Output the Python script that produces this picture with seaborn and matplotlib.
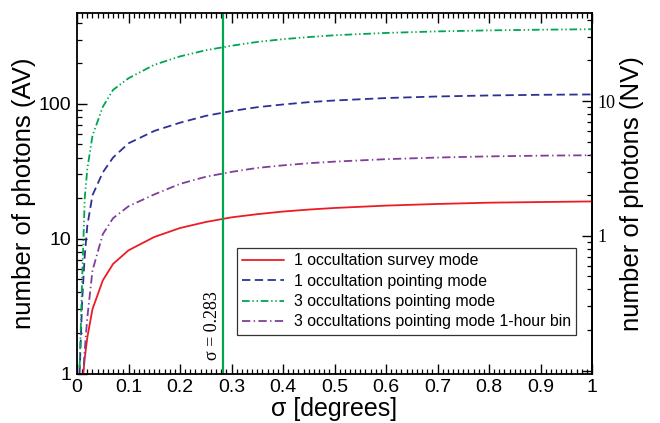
import numpy as np
import pandas as pd
import matplotlib
matplotlib.use("Agg")
import matplotlib.pyplot as plt
import matplotlib.ticker as mticker
import seaborn as sns

# ---- data ----
sigma = [0.005, 0.01, 0.015, 0.02, 0.03, 0.05, 0.07, 0.1, 0.15, 0.2, 0.25,
         0.3, 0.35, 0.4, 0.45, 0.5, 0.6, 0.7, 0.8, 0.9, 1.0]
survey_1occ = [0.3, 0.8, 1.3, 1.85, 3.0, 4.9, 6.5, 8.2, 10.3, 12.0, 13.3,
               14.4, 15.2, 15.9, 16.45, 16.9, 17.6, 18.1, 18.5, 18.7, 18.9]
pointing_1occ = [1.0, 3.5, 7.5, 12.5, 21.0, 31.0, 40.0, 51.0, 63.0, 72.5, 81.5,
                 88.5, 94.5, 99.0, 103.0, 106.0, 110.5, 113.5, 115.5, 116.8, 117.5]
pointing_3occ = [1.1, 5.0, 20.0, 33.0, 58.0, 95.0, 127.0, 155.0, 195.0, 225.0, 250.0,
                 270.0, 288.0, 302.0, 313.0, 323.0, 336.0, 345.0, 351.0, 355.0, 358.0]
pointing_3occ_1h = [0.5, 0.75, 1.5, 2.6, 5.8, 10.8, 14.2, 17.4, 21.3, 25.5, 28.8,
                    31.3, 33.5, 35.0, 36.3, 37.3, 38.9, 40.0, 40.8, 41.3, 41.6]
labels = ["1 occultation survey mode",
          "1 occultation pointing mode",
          "3 occultations pointing mode",
          "3 occultations pointing mode 1-hour bin"]
sigma_mark = 0.283
nv_factor = 10.5
x_ticks = [0, 0.1, 0.2, 0.3, 0.4, 0.5, 0.6, 0.7, 0.8, 0.9, 1.0]

sns.set_style("ticks")
plt.rcParams['font.family'] = ['Liberation Sans', 'DejaVu Sans']
plt.rcParams['lines.scale_dashes'] = False
for k in ['text.color', 'axes.labelcolor', 'xtick.color', 'ytick.color',
          'axes.edgecolor']:
    plt.rcParams[k] = 'black'

fig = plt.figure(figsize=(6.6, 4.23), dpi=100)
ax = fig.add_axes([0.1167, 0.117, 0.7803, 0.8516])

series = [survey_1occ, pointing_1occ, pointing_3occ, pointing_3occ_1h]
colors = ["#ec1c24", "#2e3192", "#00a651", "#7f3f98"]
styles = ["-", (0, (6, 3.2)), (0, (5.5, 2, 1, 2, 1, 2)), (0, (6, 2.4, 1, 2.4))]

for vals, lab, col, ls in zip(series, labels, colors, styles):
    df = pd.DataFrame({"sigma": sigma, "n": vals})
    sns.lineplot(data=df, x="sigma", y="n", ax=ax, color=col, label=lab,
                 linestyle=ls, linewidth=1.3)

ax.axvline(sigma_mark, color="#00a651", lw=1.6)
ax.text(sigma_mark - 0.019, 1.27, r"σ = 0.283", rotation=90, ha="center",
        va="bottom", fontsize=13, family=["Liberation Serif", "DejaVu Serif"])

ax.set_yscale("log")
ax.set_xlim(0, 1)
ax.set_ylim(1, 470)

ax.xaxis.set_major_locator(mticker.FixedLocator(x_ticks))
ax.xaxis.set_minor_locator(mticker.MultipleLocator(0.01))
ax.xaxis.set_major_formatter(mticker.FuncFormatter(lambda v, p: "%g" % v))
ax.yaxis.set_major_locator(mticker.LogLocator(base=10))
ax.yaxis.set_minor_locator(mticker.LogLocator(base=10, subs=np.arange(2, 10)))
ax.yaxis.set_major_formatter(mticker.FuncFormatter(lambda v, p: "%g" % v))
ax.yaxis.set_minor_formatter(mticker.NullFormatter())

ax.tick_params(axis="both", which="major", direction="in", length=7, width=1,
               labelsize=14, pad=4, colors="black")
ax.tick_params(axis="both", which="minor", direction="in", length=3.3, width=0.9)
ax.tick_params(axis="x", which="both", top=True)
ax.tick_params(axis="y", which="both", right=False)
for s in ax.spines.values():
    s.set_linewidth(1.3)
    s.set_color("black")
    s.set_visible(True)

ax.set_xlabel("σ [degrees]", fontsize=18, labelpad=0.5, color="black")
ax.set_ylabel("number of photons (AV)", fontsize=18.5, labelpad=2, color="black")

sec = ax.secondary_yaxis("right", functions=(lambda v: v / nv_factor,
                                             lambda v: v * nv_factor))
sec.yaxis.set_major_locator(mticker.FixedLocator([0.1, 1, 10]))
sec.yaxis.set_minor_locator(mticker.LogLocator(base=10, subs=np.arange(2, 10)))
sec.yaxis.set_major_formatter(mticker.FixedFormatter(["", "1", "10"]))
sec.yaxis.set_minor_formatter(mticker.NullFormatter())
sec.tick_params(which="major", direction="in", length=7, width=1, labelsize=13,
                pad=4, colors="black")
sec.tick_params(which="minor", direction="in", length=3.3, width=0.9, colors="black")
for t in sec.get_yticklabels():
    t.set_family(["Liberation Serif", "DejaVu Serif"])
sec.spines["right"].set_linewidth(1.3)
sec.spines["right"].set_color("black")
sec.set_ylabel("number of photons (NV)", fontsize=18.5, labelpad=3, color="black")

leg = ax.legend(loc="upper left", bbox_to_anchor=(0.31, 0.349), fontsize=11.4,
                frameon=True, fancybox=False, edgecolor="black",
                handlelength=2.65, handletextpad=0.6, labelspacing=0.34,
                borderpad=0.35, borderaxespad=0)
leg.get_frame().set_linewidth(0.9)
for t in leg.get_texts():
    t.set_color("black")

fig.savefig("out.png", dpi=100)
